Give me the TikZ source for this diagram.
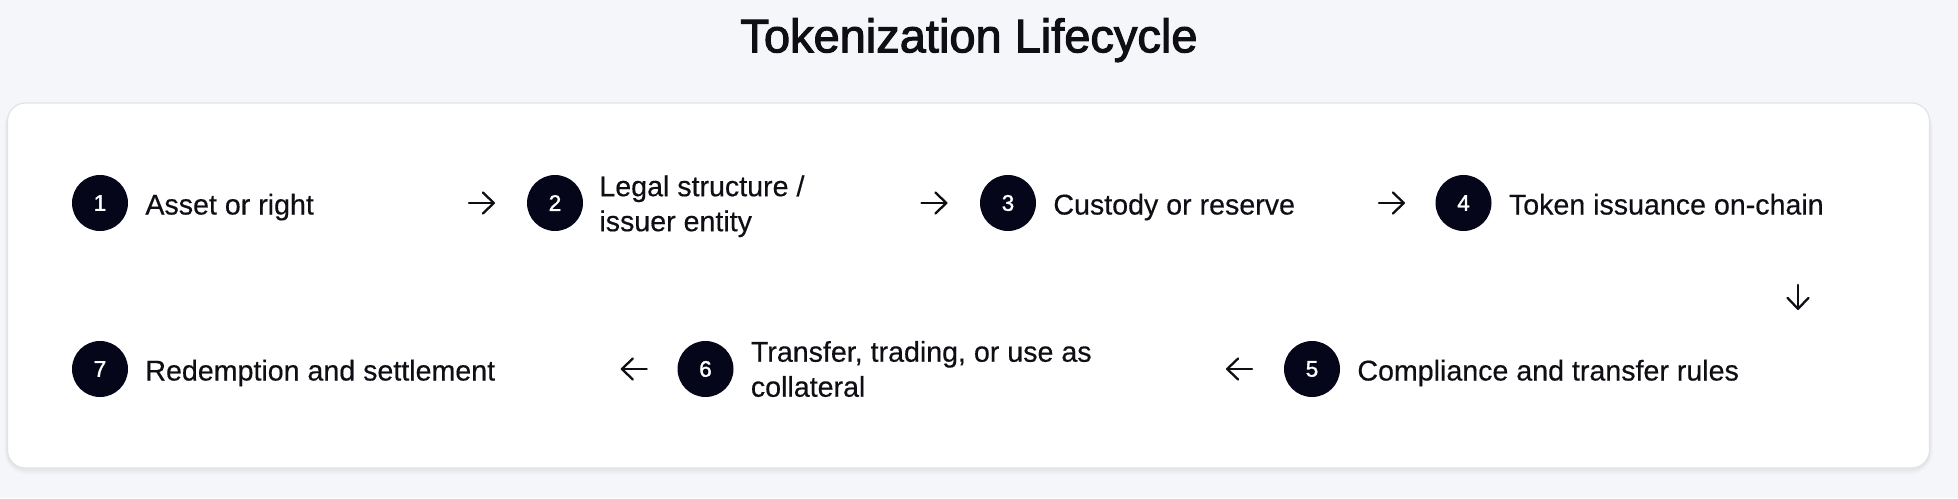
\documentclass[tikz,border=0pt]{standalone}
\usepackage{fontspec}
\setmainfont{Liberation Sans}
\newfontfamily\titlefont[FakeBold=2.2]{Liberation Sans}
\newfontfamily\numfont[FakeBold=1.4]{Liberation Sans}
\newfontfamily\bodyfont[FakeBold=0.4]{Liberation Sans}
\usetikzlibrary{arrows.meta}
\definecolor{bgc}{HTML}{F5F6F9}
\definecolor{cardline}{HTML}{E2E3E7}
\definecolor{ink}{HTML}{0E0E14}
\definecolor{dot}{HTML}{05061A}
\tikzset{
  stepnum/.style={circle, fill=dot, text=white, minimum size=28pt, inner sep=0pt,
    font=\numfont\fontsize{11.3}{13}\selectfont},
  steptext/.style={inner sep=0pt, text=ink, font=\bodyfont\fontsize{14.3}{17.5}\selectfont},
  twoline/.style={steptext, align=left, anchor=west},
  oneline/.style={steptext, anchor=base west},
  flow/.style={draw=ink, line width=1.15pt, line cap=round,
    -{Straight Barb[length=5.5pt,width=10.5pt,line cap=round,line join=round]}},
  titletext/.style={inner sep=0pt, text=ink, font=\titlefont\fontsize{23.5}{28}\selectfont, anchor=base},
}
\begin{document}
\begin{tikzpicture}[x=0.5pt,y=-0.5pt]
\useasboundingbox (0,0) rectangle (1958,498);
\fill[bgc] (0,0) rectangle (1958,498);
% card shadow
\foreach \i/\o in {6/0.012,4/0.02,2/0.03}{
  \fill[black, opacity=\o, rounded corners=9pt+\i*0.5pt] (7.5-\i*0.6,103-\i*0.2+2) rectangle (1929.5+\i*0.6,468+\i+1);
}
\draw[cardline, fill=white, line width=0.6pt, rounded corners=9pt] (7.5,103) rectangle (1929.5,468);
% title
\node[titletext] (title) at (969,52.3) {Tokenization Lifecycle};
% circles
\node[stepnum] (c1) at (100,203) {1};
\node[stepnum] (c2) at (555,203) {2};
\node[stepnum] (c3) at (1008,203) {3};
\node[stepnum] (c4) at (1463.5,203) {4};
\node[stepnum] (c5) at (1312,369) {5};
\node[stepnum] (c6) at (705.5,369) {6};
\node[stepnum] (c7) at (100,369) {7};
% labels
\node[oneline] (t1) at (145,214.5) {Asset or right};
\node[twoline, yshift=-1.65pt] (t2) at (599,203) {Legal structure /\\issuer entity};
\node[oneline] (t3) at (1053,214.5) {Custody or reserve};
\node[oneline] (t4) at (1508.5,214.5) {Token issuance on-chain};
\node[oneline] (t5) at (1357,380.5) {Compliance and transfer rules};
\node[twoline] (t6) at (750.5,369) {Transfer, trading, or use as\\collateral};
\node[oneline] (t7) at (145,380.5) {Redemption and settlement};
% arrows
\coordinate (a1s) at (469,203); \coordinate (a1e) at (495,203);
\coordinate (a2s) at (921.5,203); \coordinate (a2e) at (947.5,203);
\coordinate (a3s) at (1379,203); \coordinate (a3e) at (1405,203);
\coordinate (a4s) at (1798,285); \coordinate (a4e) at (1798,310);
\coordinate (a5s) at (1252,369); \coordinate (a5e) at (1226,369);
\coordinate (a6s) at (646.7,369); \coordinate (a6e) at (620.7,369);
\draw[flow] (a1s) -- (a1e);
\draw[flow] (a2s) -- (a2e);
\draw[flow] (a3s) -- (a3e);
\draw[flow] (a4s) -- (a4e);
\draw[flow] (a5s) -- (a5e);
\draw[flow] (a6s) -- (a6e);
\end{tikzpicture}
\end{document}
